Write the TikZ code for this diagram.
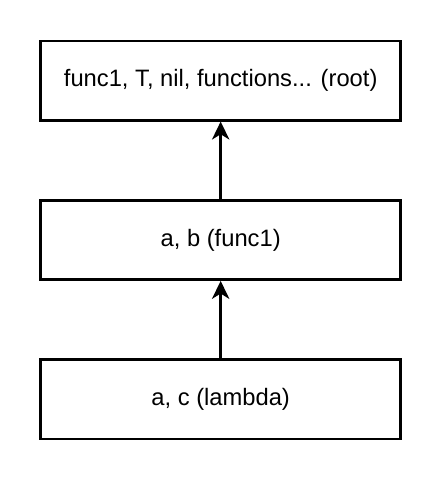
\documentclass[tikz,border=0pt]{standalone}
\usepackage{fontspec}
\setmainfont{Liberation Sans}
\usepackage{tikz}
\usetikzlibrary{arrows.meta, positioning}

\begin{document}
\begin{tikzpicture}[
    node distance=60pt,
    frame/.style={draw, line width=1.8pt, outer sep=0pt, minimum width=270pt, minimum height=59.5pt, align=center, font=\fontsize{17.8}{21}\selectfont},
    arrow/.style={-{Stealth[length=13.5pt, width=13pt, inset=4pt]}, line width=1.8pt, shorten >=0.9pt}
]
    \useasboundingbox (0,0) rectangle (331.5pt,-361.5pt);
    % Scopes, outermost first
    \node[frame, anchor=north west] (root) at (30.5pt,-30.75pt) {func1, T, nil, functions... (root)};
    \node[frame, below=of root] (func) {a, b (func1)};
    \node[frame, below=of func] (lambda) {a, c (lambda)};

    % Parent links
    \draw[arrow] (lambda) -- (func);
    \draw[arrow] (func) -- (root);
\end{tikzpicture}
\end{document}
